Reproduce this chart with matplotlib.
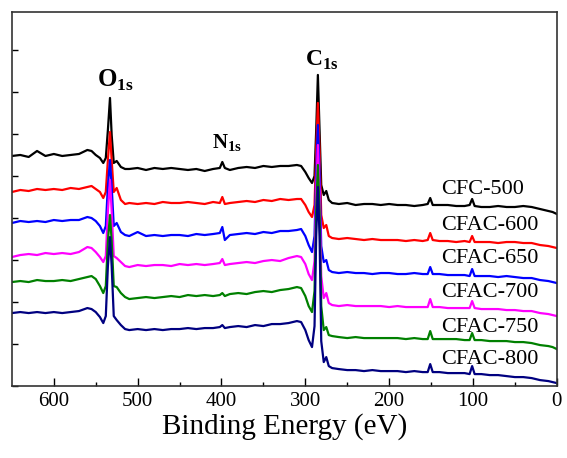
import numpy as np
import matplotlib
matplotlib.use("Agg")
import matplotlib.pyplot as plt

plt.rcParams["font.family"] = ["Liberation Serif", "DejaVu Serif"]
plt.rcParams["mathtext.fontset"] = "custom"
plt.rcParams["mathtext.rm"] = "Liberation Serif"
plt.rcParams["mathtext.bf"] = "Liberation Serif:bold"

# binding energy grid (eV), shared by all spectra
energy = [650, 640, 630, 620, 610, 600, 590, 580, 570, 560, 555, 550, 545, 541, 538,
          535.5, 533, 531, 528.5, 525, 520, 515, 510, 500, 490, 480, 470, 460, 450, 440,
          430, 420, 410, 402, 399, 396, 390, 380, 370, 360, 350, 340, 330, 320, 310,
          305, 300, 296, 292, 289, 287, 285, 283, 281, 278, 275, 272, 268, 260, 250,
          240, 230, 220, 210, 200, 190, 180, 170, 160, 154, 151, 148, 140, 130, 120,
          110, 104, 101, 98, 90, 80, 70, 60, 50, 40, 30, 20, 10, 5, 0]

# stacked intensities (a.u.)
cfc_500 = [230, 231, 229, 235, 230, 232, 230, 231, 232, 236, 235, 231, 228, 223, 228,
           256, 288, 251, 223, 225, 219, 217, 217, 218, 216, 218, 217, 218, 217, 216,
           217, 215, 217, 218, 224, 218, 216, 218, 219, 218, 220, 219, 220, 220, 221,
           220, 214, 208, 203, 210, 256, 311, 256, 201, 191, 195, 186, 183, 182, 183,
           181, 182, 182, 181, 182, 181, 181, 180, 181, 182, 188, 181, 181, 181, 180,
           180, 181, 187, 180, 179, 179, 180, 179, 179, 180, 179, 177, 175, 174, 172]
cfac_600 = [194, 196, 195, 197, 196, 197, 196, 198, 197, 199, 200, 197, 194, 188, 194,
            226, 254, 226, 194, 198, 186, 182, 183, 182, 183, 182, 184, 183, 183, 184,
            183, 182, 184, 183, 189, 182, 183, 184, 185, 184, 186, 185, 187, 186, 187,
            187, 181, 174, 169, 181, 236, 283, 236, 171, 158, 161, 150, 148, 147, 148,
            147, 146, 147, 146, 146, 146, 145, 146, 145, 146, 153, 146, 145, 145, 144,
            145, 144, 150, 144, 144, 144, 143, 144, 144, 143, 143, 141, 140, 139, 138]
cfac_650 = [163, 165, 164, 165, 164, 166, 165, 166, 166, 169, 168, 165, 160, 153, 160,
            200, 226, 200, 160, 163, 154, 151, 150, 154, 150, 151, 150, 151, 151, 150,
            152, 151, 152, 153, 159, 146, 151, 152, 153, 152, 154, 153, 155, 155, 156,
            157, 150, 141, 134, 150, 215, 261, 215, 140, 124, 126, 116, 114, 113, 114,
            113, 113, 112, 113, 113, 112, 112, 113, 112, 112, 119, 112, 112, 111, 111,
            111, 110, 117, 110, 110, 110, 109, 110, 109, 108, 108, 106, 105, 104, 103]
cfac_700 = [129, 131, 132, 131, 133, 132, 133, 132, 134, 139, 138, 134, 129, 124, 130,
            175, 206, 175, 130, 128, 124, 120, 119, 121, 120, 121, 121, 120, 122, 121,
            122, 121, 122, 123, 127, 121, 122, 123, 124, 123, 125, 126, 125, 128, 130,
            129, 122, 112, 106, 125, 195, 241, 195, 110, 88, 93, 83, 81, 80, 81,
            80, 80, 80, 80, 79, 80, 79, 79, 79, 79, 87, 79, 79, 78, 78,
            78, 78, 85, 78, 77, 77, 77, 76, 76, 75, 75, 73, 72, 71, 70]
cfac_750 = [104, 105, 104, 106, 105, 105, 106, 105, 107, 109, 110, 107, 100, 93, 100,
            145, 171, 145, 100, 99, 93, 89, 87, 88, 89, 88, 89, 90, 89, 91,
            90, 91, 90, 91, 93, 90, 92, 93, 92, 94, 95, 94, 96, 97, 99,
            98, 90, 80, 74, 95, 175, 221, 175, 80, 56, 59, 51, 50, 49, 48,
            49, 48, 48, 48, 48, 48, 47, 48, 47, 47, 55, 47, 47, 47, 47,
            46, 46, 53, 46, 46, 45, 45, 45, 44, 44, 43, 41, 40, 39, 37]
cfac_800 = [73, 74, 73, 74, 73, 74, 73, 74, 75, 78, 77, 74, 69, 63, 70,
            120, 149, 120, 70, 66, 61, 57, 56, 57, 56, 57, 56, 57, 57, 58,
            57, 58, 58, 59, 61, 58, 59, 60, 59, 61, 60, 62, 62, 63, 65,
            64, 56, 46, 39, 60, 150, 199, 150, 45, 24, 29, 20, 18, 17, 16,
            16, 15, 16, 15, 15, 15, 14, 15, 14, 14, 22, 14, 14, 13, 13,
            13, 12, 20, 12, 12, 11, 11, 10, 9, 9, 8, 6, 5, 4, 3]

names = ["CFC-500", "CFAC-600", "CFAC-650", "CFAC-700", "CFAC-750", "CFAC-800"]
spectra = [cfc_500, cfac_600, cfac_650, cfac_700, cfac_750, cfac_800]
colors = ["black", "#ff0000", "#0000ff", "#ff00ff", "#008000", "#000080"]
# label anchor heights (a.u.) for sample names
label_y = [196, 161, 128, 94, 59, 27]

fig = plt.figure(figsize=(5.67, 4.58), dpi=100)
ax = fig.add_axes([0.021, 0.157, 0.961, 0.817])

for name, y, c, ly in zip(names, spectra, colors, label_y):
    assert len(y) == len(energy)
    ax.plot(energy, y, color=c, lw=1.6)
    ax.text(138, ly, name, fontsize=16, ha="left", va="center")

ax.text(527, 306, r"$\mathbf{O}_{\mathbf{1s}}$", fontsize=18, ha="center", va="center")
ax.text(280, 326, r"$\mathbf{C}_{\mathbf{1s}}$", fontsize=17, ha="center", va="center")
ax.text(393, 243, r"$\mathbf{N}_{\mathbf{1s}}$", fontsize=15, ha="center", va="center")

ax.set_xlim(650, 0)
ax.set_ylim(0, 374)
ax.set_xticks([600, 500, 400, 300, 200, 100, 0])
ax.set_xticks(np.arange(550, 0, -100), minor=True)
ax.set_yticks(np.arange(0, 374, 42))
ax.set_yticklabels([])
ax.tick_params(axis="x", which="major", direction="in", length=6, width=1, labelsize=15, pad=4)
ax.tick_params(axis="x", which="minor", direction="in", length=3, width=1)
ax.tick_params(axis="y", which="major", direction="in", length=4, width=1)
for s in ax.spines.values():
    s.set_linewidth(1.2)
    s.set_color("#333333")
ax.set_xlabel("Binding Energy (eV)", fontsize=21, labelpad=2)

fig.savefig("out.png", dpi=100)
